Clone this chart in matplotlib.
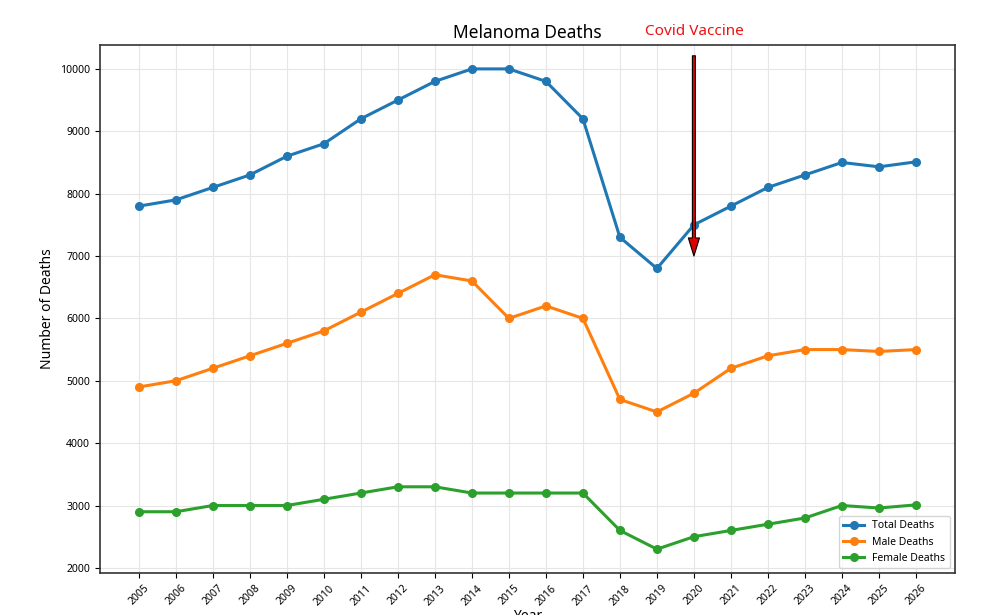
import matplotlib
matplotlib.use("Agg")
import matplotlib.pyplot as plt

plt.rcParams['font.family'] = ['Noto Sans', 'DejaVu Sans']

years = list(range(2005, 2027))
total = [7800, 7900, 8100, 8300, 8600, 8800, 9200, 9500, 9800, 10000, 10000,
         9800, 9200, 7300, 6800, 7500, 7800, 8100, 8300, 8500, 8430, 8510]
male = [4900, 5000, 5200, 5400, 5600, 5800, 6100, 6400, 6700, 6600, 6000,
        6200, 6000, 4700, 4500, 4800, 5200, 5400, 5500, 5500, 5470, 5500]
female = [2900, 2900, 3000, 3000, 3000, 3100, 3200, 3300, 3300, 3200, 3200,
          3200, 3200, 2600, 2300, 2500, 2600, 2700, 2800, 3000, 2960, 3010]
vaccine_year = 2020

fig = plt.figure(figsize=(10.04, 6.15), dpi=100)
ax = fig.add_axes([0.0996, 0.068, 0.8514, 0.859])

ax.plot(years, total, marker='o', lw=2.2, ms=5.5, color='#1f77b4', label='Total Deaths')
ax.plot(years, male, marker='o', lw=2.2, ms=5.5, color='#ff7f0e', label='Male Deaths')
ax.plot(years, female, marker='o', lw=2.2, ms=5.5, color='#2ca02c', label='Female Deaths')

ax.set_xticks(years)
ax.set_xticklabels([str(y) for y in years], rotation=45, fontsize=7.5)
ax.tick_params(axis='y', labelsize=7.5)
ax.grid(True, color='#e6e6e6', lw=0.8)
for s in ax.spines.values():
    s.set_color('#333333')
    s.set_linewidth(1.2)

ax.set_xlabel('Year', fontsize=10, labelpad=1)
ax.set_ylabel('Number of Deaths', fontsize=10)
ax.set_title('Melanoma Deaths', fontsize=12.5, pad=5)

ax.annotate('', xy=(vaccine_year, 7000), xytext=(vaccine_year, 10210),
            arrowprops=dict(facecolor='#dd0000', edgecolor='black', width=2.2,
                            headwidth=8, headlength=13, lw=0.8))
ax.text(vaccine_year, 1.012, 'Covid Vaccine', color='#ee1111', fontsize=11,
        ha='center', va='bottom', transform=ax.get_xaxis_transform())

ax.legend(loc='lower right', fontsize=7.5)

fig.savefig('out.png', dpi=100)
